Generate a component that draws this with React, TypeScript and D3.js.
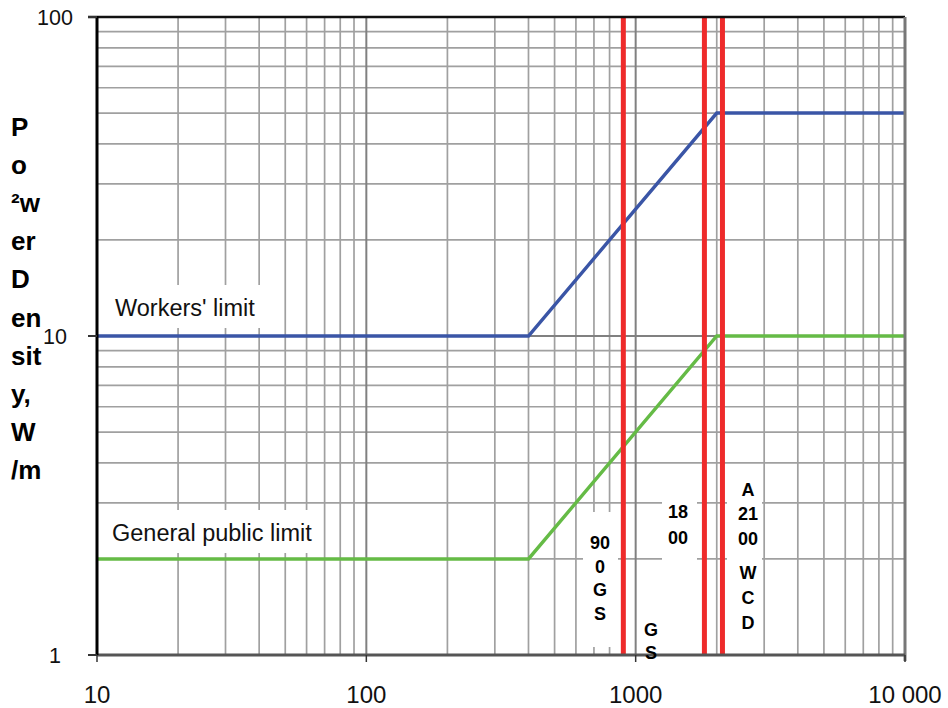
import * as d3 from 'd3';

// frequency (MHz) vs power density limit (W/m²)
const workersFreq = [10, 400, 2000, 10000];
const workersLimit = [10, 10, 50, 50];
const publicFreq = [10, 400, 2000, 10000];
const publicLimit = [2, 2, 10, 10];

// mobile bands, red markers
const bandFreqs = [900, 1800, 2100];

const xTicks = [10, 100, 1000, 10000];
const xTickLabels = ['10', '100', '1000', '10 000'];
const yTicks = [1, 10, 100];
const yTickLabels = ['1', '10', '100'];

const yTitleLines = ['P', 'o', '²w', 'er', 'D', 'en', 'sit', 'y,', 'W', '/m'];

const bandNotes = [
  { lines: ['90', '0', 'G', 'S'], x: 600, y: 549, gaps: [0, 23.5, 47, 70.5], box: [583, 512, 35, 135] },
  { lines: ['18', '00'], x: 678, y: 518, gaps: [0, 26], box: [662, 470, 35, 170] },
  { lines: ['A', '21', '00', 'W', 'C', 'D'], x: 748, y: 496, gaps: [0, 24, 49, 83, 108, 133], box: [727, 470, 35, 175] },
  { lines: ['G', 'S'], x: 651, y: 636, gaps: [0, 23], box: null },
];

const W = 948;
const H = 708;
const left = 97;
const right = 905;
const top = 17;
const bottom = 655;

export default function App() {
  const x = d3.scaleLog().domain([10, 10000]).range([left, right]);
  const y = d3.scaleLog().domain([1, 100]).range([bottom, top]);

  const line = d3
    .line<[number, number]>()
    .x((d) => x(d[0]))
    .y((d) => y(d[1]));

  const workers = workersFreq.map((f, i) => [f, workersLimit[i]] as [number, number]);
  const general = publicFreq.map((f, i) => [f, publicLimit[i]] as [number, number]);

  const xGrid = x.ticks().filter((v) => !xTicks.includes(v));
  const yGrid = y.ticks().filter((v) => !yTicks.includes(v));

  const font = 'Liberation Sans, Arial, sans-serif';

  return (
    <div style={{ position: 'absolute', left: 0, top: 0 }}>
      <svg width={W} height={H} style={{ display: 'block', background: '#fff' }}>
        {/* minor grid */}
        <g stroke="#a0a0a0" strokeWidth={1.7}>
          {xGrid.map((v) => (
            <line key={'xg' + v} x1={x(v)} x2={x(v)} y1={top} y2={bottom} />
          ))}
          {yGrid.map((v) => (
            <line key={'yg' + v} x1={left} x2={right} y1={y(v)} y2={y(v)} />
          ))}
        </g>
        {/* major grid */}
        <g stroke="#808080" strokeWidth={2}>
          {xTicks.slice(1, -1).map((v) => (
            <line key={'xm' + v} x1={x(v)} x2={x(v)} y1={top} y2={bottom} />
          ))}
          <line x1={left} x2={right} y1={y(10)} y2={y(10)} />
        </g>

        {/* label backgrounds */}
        <rect x={100} y={285} width={182} height={43} fill="#fff" />
        <rect x={100} y={510} width={216} height={43} fill="#fff" />
        {bandNotes.map((n, i) =>
          n.box ? <rect key={'b' + i} x={n.box[0]} y={n.box[1]} width={n.box[2]} height={n.box[3]} fill="#fff" /> : null
        )}

        <path d={line(general) || ''} fill="none" stroke="#65bb46" strokeWidth={3.4} />
        <path d={line(workers) || ''} fill="none" stroke="#3a55a6" strokeWidth={3.4} />

        {bandFreqs.map((f) => (
          <line key={'r' + f} x1={x(f)} x2={x(f)} y1={top} y2={bottom} stroke="#ee2b2b" strokeWidth={5} />
        ))}

        {/* axes / frame */}
        <line x1={88} x2={right} y1={top} y2={top} stroke="#111" strokeWidth={2.5} />
        <line x1={right} x2={right} y1={top} y2={bottom + 6} stroke="#777" strokeWidth={3} />
        <line x1={left} x2={right} y1={bottom} y2={bottom} stroke="#555" strokeWidth={3} />
        <line x1={left} x2={left} y1={top - 1} y2={bottom} stroke="#000" strokeWidth={3} />
        {yTicks.map((v) => (
          <line key={'yt' + v} x1={88} x2={left} y1={y(v)} y2={y(v)} stroke="#333" strokeWidth={2} />
        ))}
        {xTicks.map((v) => (
          <line key={'xt' + v} x1={x(v)} x2={x(v)} y1={bottom} y2={bottom + 7} stroke="#333" strokeWidth={1.5} />
        ))}

        <g fontFamily={font} fill="#111">
          {xTicks.map((v, i) => (
            <text key={'xl' + v} x={x(v)} y={703} fontSize={24} textAnchor="middle">
              {xTickLabels[i]}
            </text>
          ))}
          {yTicks.map((v, i) => (
            <text key={'yl' + v} x={55} y={y(v) + 8} fontSize={21.5} textAnchor="middle">
              {yTickLabels[i]}
            </text>
          ))}
          <text x={115} y={316} fontSize={23.5}>Workers' limit</text>
          <text x={112} y={541} fontSize={23.5}>General public limit</text>
        </g>

        <g fontFamily={font} fontWeight="bold" fill="#000">
          {yTitleLines.map((s, i) => (
            <text key={'t' + i} x={11} y={136 + i * 38.1} fontSize={26}>
              {s}
            </text>
          ))}
          {bandNotes.map((n, i) =>
            n.lines.map((s, j) => (
              <text key={'n' + i + j} x={n.x} y={n.y + n.gaps[j]} fontSize={18} textAnchor="middle">
                {s}
              </text>
            ))
          )}
        </g>
      </svg>
    </div>
  );
}
